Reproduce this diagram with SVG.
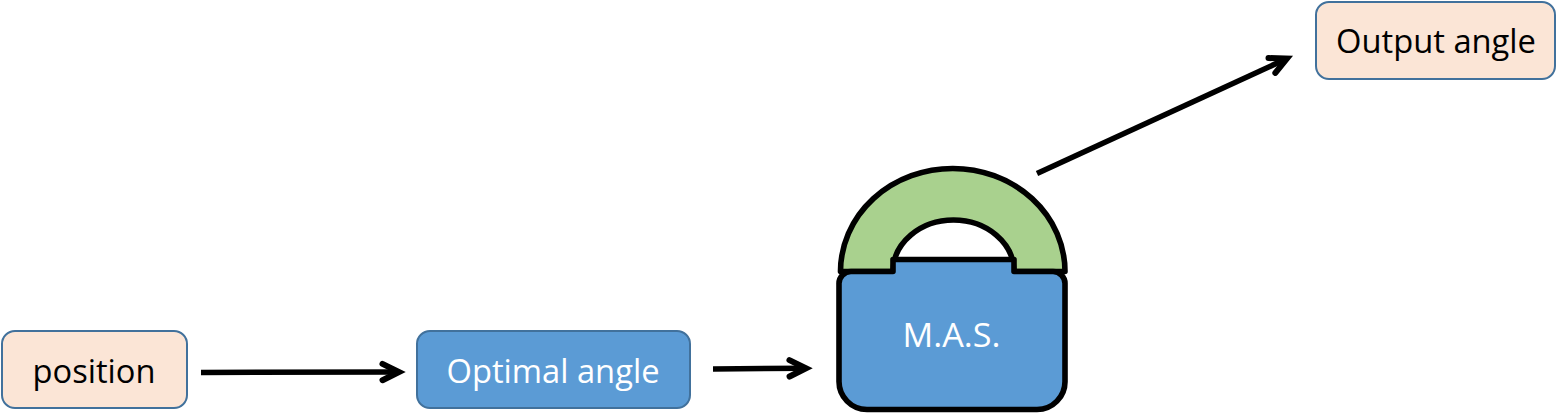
<svg xmlns="http://www.w3.org/2000/svg" width="1559" height="416" viewBox="0 0 1559 416">
<defs>
<style>
.box{stroke:#41719c;stroke-width:2}
.peach{fill:#fbe5d6}
.blue{fill:#5b9bd5}
.lbl{font-family:"Open Sans","Noto Sans","Liberation Sans",sans-serif;font-size:33.500px;text-anchor:middle}
.dark{fill:#000}
.light{fill:#fff}
.conn{fill:none;stroke:#000;stroke-width:5.500;marker-end:url(#chev)}
.lock{stroke:#000;stroke-width:5.600;stroke-linejoin:round}
</style>
<marker id="chev" markerUnits="userSpaceOnUse" markerWidth="30" markerHeight="30" refX="20" refY="15" orient="auto" overflow="visible">
<path d="M4.500,6.800 L21,15 L4.500,23.200" fill="none" stroke="#000" stroke-width="6" stroke-linecap="round" stroke-linejoin="miter"/>
</marker>
</defs>
<rect width="1559" height="416" fill="#fff"/>
<g id="connectors">
<path class="conn" d="M201,372.500 L398,372"/>
<path class="conn" d="M713,369 L805,368.200"/>
<path class="conn" d="M1037,173.500 L1286,59"/>
</g>
<g id="position">
<rect class="box peach" x="2" y="331" width="185" height="77" rx="13"/>
<text class="lbl dark" x="94" y="383" textLength="123" lengthAdjust="spacingAndGlyphs">position</text>
</g>
<g id="optimal-angle">
<rect class="box blue" x="417" y="331" width="273" height="77" rx="13"/>
<text class="lbl light" x="553" y="383" textLength="213" lengthAdjust="spacingAndGlyphs">Optimal angle</text>
</g>
<g id="mas">
<path class="lock" fill="#a9d18e" d="M840.500,271.500 A112.250,103 0 0 1 1065,271.500 L1014,271.500 A60.500,51.500 0 0 0 893,271.500 Z"/>
<path class="lock blue" d="M893,271.500 L893,259.500 L1014,259.500 L1014,271.500 L1053,271.500 A12,12 0 0 1 1065,284 L1065,381 A28,28 0 0 1 1037,409.500 L867,409.500 A28,28 0 0 1 839,381 L839,284 A12,12 0 0 1 851,271.500 Z"/>
<text class="lbl light" x="951.500" y="347" textLength="98" lengthAdjust="spacingAndGlyphs">M.A.S.</text>
</g>
<g id="output-angle">
<rect class="box peach" x="1316" y="2" width="239" height="77" rx="13"/>
<text class="lbl dark" x="1436" y="53" textLength="200" lengthAdjust="spacingAndGlyphs">Output angle</text>
</g>
</svg>
